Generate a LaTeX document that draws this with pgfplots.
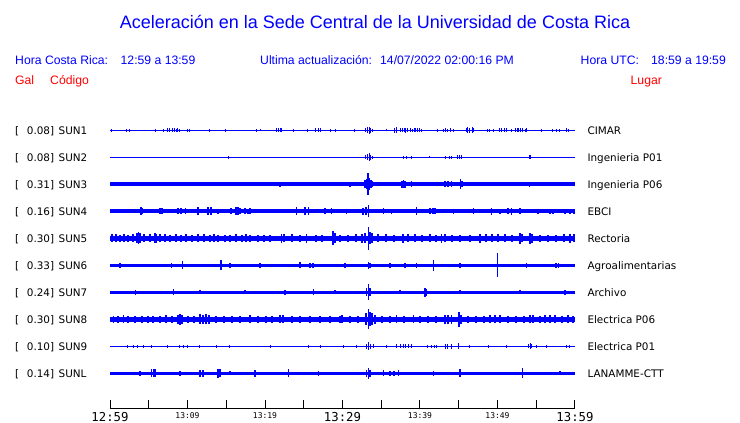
\documentclass[border=0pt]{standalone}
\usepackage{pgfplots}
\pgfplotsset{compat=1.18}
\usepackage{fontspec}
\setmainfont{DejaVu Sans}
\newfontfamily\lib{Liberation Sans}
\newfontfamily\dmono{DejaVu Sans Mono}
\newcommand{\bigt}[1]{{\fontsize{12.3}{14}\dmono #1}}
\newcommand{\smt}[1]{{\fontsize{8}{9}\dmono #1}}
\pgfplotsset{
  burst/.style={draw=none, mark=none, forget plot,
    error bars/.cd, y dir=both, y explicit, error mark=none,
    error bar style={draw=blue, line width=#1, solid}},
  burst/.default=1.3pt,
  base/.style={blue, line width=#1, mark=none, forget plot}
}
\begin{document}
\begin{tikzpicture}
\useasboundingbox (0pt,0pt) rectangle (740pt,423pt);
\begin{axis}[
  at={(110pt,14pt)}, anchor=south west,
  scale only axis, width=465pt, height=409pt,
  xmin=0, xmax=60, ymin=14, ymax=423,
  axis x line*=bottom, axis y line=none,
  x axis line style={black, line width=1pt},
  xtick={0,5,...,60},
  xticklabels={\bigt{12:59},,\smt{13:09},,\smt{13:19},,\bigt{13:29},,\smt{13:39},,\smt{13:49},,\bigt{13:59}},
  tick align=inside, major tick length=9pt,
  tick style={black, line width=1pt},
  xticklabel style={anchor=north, inner sep=0pt, yshift=-3pt},
  ytick=\empty,
  clip=false,
]
% ---------- SUN1 ----------
\addplot[base=1pt] coordinates {(0,292.5) (60,292.5)};
\addplot[burst=1pt] table[row sep=\\, x=t, y expr=292.5, y error=a] {t a\\
0.13 1.5\\ 2.15 1.5\\ 2.49 1.5\\ 5.81 1.5\\ 6.84 1.5\\ 7.48 2\\ 7.74 2\\ 8.0 2\\ 8.26 2\\ 8.52 1.5\\ 8.77 2\\ 9.03 1.5\\ 9.94 1.5\\ 10.32 1.5\\ 12.90 1.5\\ 14.84 1.5\\ 18.84 1.5\\ 19.45 1\\ 21.51 2\\ 21.68 2\\ 21.94 2\\ 22.15 2\\ 23.74 1.5\\ 25.42 1.5\\ 26.58 2\\ 26.84 2\\ 27.10 2\\ 28.48 1.5\\ 29.16 1.5\\ 31.61 1.5\\ 33.03 2\\ 33.23 3\\ 33.42 3.5\\ 33.61 2.5\\ 33.81 1.5\\ 35.70 1\\ 36.77 2.5\\ 36.97 3\\ 37.42 2\\ 37.68 2\\ 37.94 2\\ 38.19 2.5\\ 38.45 2\\ 38.71 2\\ 38.97 1.5\\ 39.23 2\\ 39.48 2\\ 39.74 2\\ 40.0 2\\ 40.22 1.5\\ 42.32 1.5\\ 42.97 1.5\\ 43.35 2\\ 43.61 1.5\\ 44.0 2\\ 44.26 1.5\\ 46.03 2\\ 46.19 3\\ 46.45 2.5\\ 46.71 3\\ 46.84 2\\ 48.77 1.5\\ 49.03 1.5\\ 49.42 1.5\\ 50.32 2\\ 50.58 2\\ 50.84 2\\ 51.10 2\\ 51.83 1.5\\ 52.26 2\\ 52.52 2\\ 52.77 2\\ 53.03 2\\ 53.29 2\\ 53.55 1.5\\ 53.77 2\\ 55.70 1.5\\ 57.12 1.5\\ 57.55 1.5\\ 58.06 1.5\\ 58.84 2\\ 59.10 1.5\\
};
% ---------- SUN2 ----------
\addplot[base=1pt] coordinates {(0,265.5) (60,265.5)};
\addplot[burst=1pt] table[row sep=\\, x=t, y expr=265.5, y error=a] {t a\\
15.35 1.5\\ 33.03 2\\ 33.23 3\\ 33.42 4\\ 33.61 2.5\\ 33.81 1.5\\ 37.85 1.5\\ 38.28 1.5\\ 38.93 1.5\\ 41.20 1\\ 43.23 1.5\\ 43.87 1.5\\ 44.09 1.5\\ 44.90 2\\ 45.16 2\\ 45.38 2\\ 54.10 2\\ 54.23 2\\
};
% ---------- SUN3 ----------
\addplot[base=4pt] coordinates {(0,238.5) (60,238.5)};
\addplot[burst] table[row sep=\\, x=t, y expr=238.5, y error=a] {t a\\
21.94 2.5\\ 30.97 2.5\\ 32.90 4\\ 33.10 5\\ 33.29 11\\ 33.48 6\\ 33.68 4\\ 33.87 3\\ 37.68 3.5\\ 37.87 4\\ 38.06 3.5\\ 38.93 3\\ 43.23 3\\ 43.61 3\\ 44.09 3\\ 45.25 5\\ 45.42 3\\ 54.10 2.8\\
};
% ---------- SUN4 ----------
\addplot[base=4pt] coordinates {(0,211.5) (60,211.5)};
\addplot[burst] table[row sep=\\, x=t, y expr=211.5, y error=a] {t a\\
4.0 4\\ 4.19 3\\ 6.45 3\\ 6.71 3\\ 8.77 3\\ 9.16 3\\ 9.77 3\\ 11.35 4\\ 12.65 4\\ 13.03 4\\ 13.94 2.5\\ 15.61 3\\ 16.26 4\\ 16.52 4\\ 16.77 3\\ 17.42 3\\ 17.81 2.5\\ 18.06 3\\ 24.09 4\\ 25.16 4\\ 25.59 4\\ 27.74 3\\ 28.61 3\\ 30.54 2.5\\ 32.65 3.5\\ 33.03 4\\ 33.33 6\\ 35.26 3\\ 36.35 2.5\\ 39.57 4\\ 41.29 3\\ 41.68 3\\ 41.94 3\\ 44.30 2.5\\ 46.88 3\\ 49.25 3.5\\ 50.32 2.5\\ 51.35 3\\ 51.83 3.5\\ 52.90 3\\ 55.23 2.5\\ 56.77 2.5\\ 57.16 2.5\\ 58.71 2.5\\ 59.35 2.5\\ 59.87 2.5\\
};
% ---------- SUN5 ----------
\addplot[base=5pt] coordinates {(0,184.5) (60,184.5)};
\addplot[burst] table[row sep=\\, x=t, y expr=184.5, y error=a] {t a\\
0.26 4\\ 0.77 4\\ 1.29 3.5\\ 1.81 4\\ 2.32 3.5\\ 2.97 4\\ 3.48 5\\ 3.68 6\\ 3.87 5\\ 4.39 4\\ 5.16 4\\ 5.81 5\\ 6.0 4.5\\ 6.45 4\\ 7.10 4\\ 7.74 3.5\\ 8.52 4\\ 9.16 3.5\\ 9.81 4\\ 10.58 3.5\\ 11.35 4\\ 12.13 4\\ 12.90 3.5\\ 13.42 4\\ 13.94 3.5\\ 14.84 3.5\\ 15.48 3.5\\ 16.26 4\\ 17.03 3.5\\ 17.55 4\\ 18.06 3.5\\ 19.10 3.5\\ 19.87 3.5\\ 20.65 3.5\\ 22.15 4.5\\ 22.45 4\\ 23.48 4\\ 24.52 3.5\\ 25.38 4.5\\ 26.58 3.5\\ 27.35 3.5\\ 28.77 7\\ 29.03 5\\ 29.68 3.5\\ 30.71 3.5\\ 31.74 4\\ 32.52 4.5\\ 32.90 5\\ 33.33 11.5\\ 33.55 6\\ 33.81 5\\ 34.58 4\\ 35.61 4\\ 36.65 3.5\\ 37.81 4.5\\ 38.45 4\\ 39.35 4\\ 40.26 3.5\\ 41.29 4\\ 42.06 3.5\\ 42.80 4.5\\ 43.23 4\\ 44.13 3.5\\ 45.16 3.5\\ 46.45 3.5\\ 47.74 4.5\\ 48.52 4\\ 49.29 4\\ 50.06 4\\ 50.97 4\\ 51.87 3.5\\ 52.90 5.5\\ 53.16 4\\ 54.19 5.5\\ 54.45 4.5\\ 55.48 3.5\\ 56.52 3.5\\ 57.55 3.5\\ 58.58 4\\ 59.35 4.5\\ 59.87 4\\
};
% ---------- SUN6 ----------
\addplot[base=3.5pt] coordinates {(0,157.5) (60,157.5)};
\addplot[burst] table[row sep=\\, x=t, y expr=157.5, y error=a] {t a\\
1.29 2.2\\ 7.96 2.5\\ 9.38 4\\ 14.32 5\\ 15.48 2.2\\ 19.35 2.2\\ 24.52 3\\ 25.81 2.5\\ 26.19 2.5\\ 30.32 2.2\\ 33.33 3.5\\ 33.55 2.5\\ 36.13 2.5\\ 38.06 2.2\\ 39.57 2.5\\ 41.72 5.5\\ 45.16 2.2\\ 49.97 12\\ 53.77 2.5\\ 57.55 2.5\\ 57.85 2.5\\
};
% ---------- SUN7 ----------
\addplot[base=3pt] coordinates {(0,130.5) (60,130.5)};
\addplot[burst] table[row sep=\\, x=t, y expr=130.5, y error=a] {t a\\
3.32 2.5\\ 8.17 3\\ 11.61 2\\ 17.42 2\\ 22.58 2.5\\ 26.23 3\\ 29.03 2\\ 33.10 4\\ 33.33 8\\ 33.55 4\\ 37.42 2\\ 40.65 4.5\\ 40.84 3.5\\ 45.16 2\\ 52.90 2\\ 58.71 2.5\\
};
% ---------- SUN8 ----------
\addplot[base=5pt] coordinates {(0,103.5) (60,103.5)};
\addplot[burst] table[row sep=\\, x=t, y expr=103.5, y error=a] {t a\\
0.43 3.5\\ 1.03 3.5\\ 1.72 4\\ 2.32 3.5\\ 3.23 3.5\\ 4.13 3.5\\ 4.90 3.5\\ 5.55 3.5\\ 6.45 3.5\\ 7.23 4\\ 8.0 3.5\\ 8.77 4.5\\ 9.03 5.5\\ 9.29 4.5\\ 10.06 3.5\\ 10.84 3.5\\ 11.61 5\\ 12.0 4.5\\ 12.39 5\\ 12.77 4.5\\ 13.68 3.5\\ 14.71 3.5\\ 15.74 3.5\\ 16.77 3.5\\ 18.06 4\\ 19.10 3.5\\ 20.13 3.5\\ 20.90 3.5\\ 21.94 4\\ 22.32 4\\ 23.48 3.5\\ 24.52 3.5\\ 25.81 3.5\\ 27.10 3.5\\ 28.39 3.5\\ 29.68 3.5\\ 29.94 4\\ 30.97 3.5\\ 32.0 3.5\\ 33.03 6\\ 33.33 10\\ 33.55 7\\ 33.81 6\\ 34.19 4.5\\ 35.10 3.5\\ 36.13 3.5\\ 36.99 4\\ 37.94 3.5\\ 39.14 4\\ 40.0 3.5\\ 41.03 3.5\\ 42.06 3.5\\ 43.23 4.5\\ 43.61 4.5\\ 44.09 4.5\\ 45.03 7.5\\ 45.29 4.5\\ 46.19 3.5\\ 47.23 3.5\\ 48.26 3.5\\ 49.03 4\\ 49.68 4\\ 50.32 4\\ 51.35 3.5\\ 52.39 3.5\\ 53.42 3.5\\ 54.19 4\\ 54.58 4\\ 55.48 3.5\\ 56.13 4\\ 56.77 4\\ 57.42 4\\ 58.32 3.5\\ 59.10 4\\ 59.74 3.5\\
};
% ---------- SUN9 ----------
\addplot[base=1pt] coordinates {(0,76.5) (60,76.5)};
\addplot[burst=1pt] table[row sep=\\, x=t, y expr=76.5, y error=a] {t a\\
2.32 1.5\\ 2.97 1.5\\ 3.61 1.5\\ 4.26 1.5\\ 5.38 1.5\\ 7.48 1.5\\ 9.03 1.5\\ 9.42 1.5\\ 9.94 1.5\\ 11.61 1.5\\ 13.77 1.5\\ 15.48 1.5\\ 20.65 1.5\\ 25.59 1.5\\ 27.10 1.5\\ 30.10 1.5\\ 31.83 1.5\\ 33.10 2.5\\ 33.33 4\\ 33.55 2.5\\ 33.97 2\\ 35.70 1.5\\ 37.03 2\\ 37.42 2\\ 37.81 2\\ 38.19 2\\ 38.58 2\\ 38.93 2\\ 41.03 1.5\\ 41.42 1.5\\ 41.81 1.5\\ 42.15 1.5\\ 43.23 2.5\\ 43.61 2.5\\ 44.09 2.5\\ 44.94 3\\ 46.45 1.5\\ 48.90 1.5\\ 51.19 1.5\\ 54.06 2\\ 54.26 3\\ 54.45 2\\ 55.06 1.5\\ 56.35 1.5\\ 58.93 1.5\\ 59.35 1.5\\
};
% ---------- SUNL ----------
\addplot[base=3pt] coordinates {(0,49.5) (60,49.5)};
\addplot[burst] table[row sep=\\, x=t, y expr=49.5, y error=a] {t a\\
3.87 2.5\\ 5.38 4\\ 5.61 4\\ 5.81 4\\ 9.03 2.5\\ 11.61 3.5\\ 12.0 3.5\\ 13.94 4.5\\ 14.19 4\\ 15.48 2\\ 18.71 3.5\\ 23.0 4\\ 26.88 2.5\\ 33.10 3.5\\ 33.33 5.5\\ 33.55 3.5\\ 35.26 3\\ 36.13 2.5\\ 36.65 2.5\\ 37.20 3\\ 41.72 2.5\\ 45.16 4\\ 53.25 5\\ 58.06 2\\
};
\end{axis}
% ---------- texts ----------
\node[anchor=base, inner sep=0pt, text=blue] at (375pt,394pt) {\fontsize{18}{20}\lib Aceleración en la Sede Central de la Universidad de Costa Rica};
\begin{scope}[every node/.style={anchor=base west, inner sep=0pt, text=blue, font=\fontsize{12.2}{14}\lib}]
\node at (15pt,358pt) {Hora Costa Rica:};
\node at (120.5pt,358pt) {12:59 a 13:59};
\node at (260pt,358pt) {Ultima actualización:};
\node at (380pt,358pt) {14/07/2022 02:00:16 PM};
\node at (580.5pt,358pt) {Hora UTC:};
\node at (651pt,358pt) {18:59 a 19:59};
\node[text=red] at (15pt,338pt) {Gal};
\node[text=red] at (50pt,338pt) {Código};
\node[text=red] at (630.5pt,338pt) {Lugar};
\end{scope}
\begin{scope}[every node/.style={inner sep=0pt, text=black, font=\fontsize{10.4}{12}\selectfont}]
\foreach \y/\g/\c/\n [count=\i] in {288/0.08/SUN1/CIMAR, 261/0.08/SUN2/Ingenieria P01, 234/0.31/SUN3/Ingenieria P06, 207/0.16/SUN4/EBCI, 180/0.30/SUN5/Rectoria, 153/0.33/SUN6/Agroalimentarias, 126/0.24/SUN7/Archivo, 99/0.30/SUN8/Electrica P06, 72/0.10/SUN9/Electrica P01, 45/0.14/SUNL/LANAMME-CTT}{
  \node[anchor=base west] at (15pt,\y pt) {[};
  \node[anchor=base east] at (54.3pt,\y pt) {\g]};
  \node[anchor=base west] at (58.5pt,\y pt) {\c};
  \node[anchor=base west] at (587.3pt,\y pt) {\n};
}
\end{scope}
\end{tikzpicture}
\end{document}
